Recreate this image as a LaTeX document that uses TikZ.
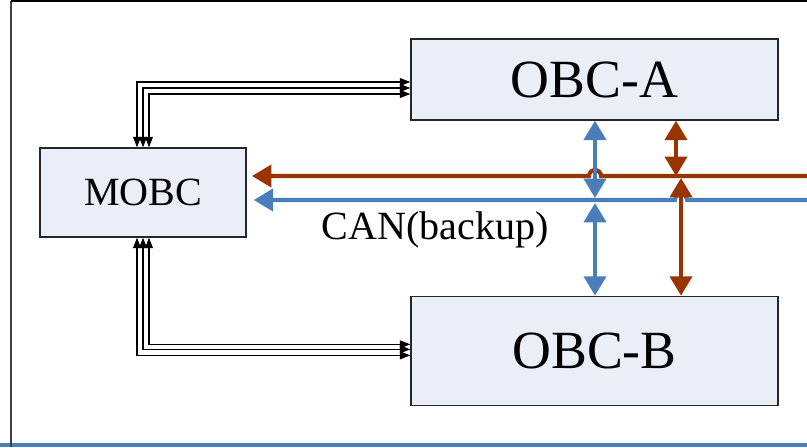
\documentclass[tikz,border=0pt]{standalone}
\usepackage{fontspec}
\setmainfont{Liberation Serif}
\usetikzlibrary{arrows.meta,positioning}
\definecolor{boxfill}{HTML}{E9EEF7}
\definecolor{canred}{HTML}{993300}
\definecolor{canblue}{HTML}{4A7EBB}
\tikzset{
    %Define style for the computer boxes
    unit/.style={
           rectangle,
           draw=black!85,
           line width=0.8pt,
           fill=boxfill,
           inner sep=0pt},
    % Define thin link style
    wire/.style={
           <->,
           >={Triangle[length=6pt,width=4.5pt]},
           line width=0.6pt},
    % Define CAN bus style
    bus/.style={
           line width=2.3pt,
           >={Triangle[length=11pt,width=12.5pt]}}
}

\begin{document}
\begin{tikzpicture}[x=0.02cm,y=-0.02cm]
  \useasboundingbox (0,0) rectangle (807,447);
  % frame
  \fill[canblue] (0,443) rectangle (807,447);
  \draw[black!75,line width=1.1pt] (11,447) -- (11,1);
  \draw[black,line width=1.1pt] (11,1) -- (807,1);
  % boxes
  \node[unit,minimum width=4.12cm,minimum height=1.78cm,
        font=\fontsize{22.8}{27}\selectfont] (mobc) at (143,192.5) {MOBC};
  \node[unit,minimum width=7.34cm,minimum height=1.62cm,
        font=\fontsize{30.6}{36}\selectfont] (obca) at (594.5,79.5) {OBC-A};
  \node[unit,minimum width=7.34cm,minimum height=2.18cm,below=3.5cm of obca,
        font=\fontsize{30.6}{36}\selectfont] (obcb) {OBC-B};
  % triple links
  \foreach \dx/\dy in {-0.12/-0.05, 0/-0.17, 0.12/-0.29}
    \draw[wire] ([yshift=\dy cm]obca.west) -| ([xshift=\dx cm]mobc.north);
  \foreach \dx/\dy in {0.12/0.13, 0/0.03, -0.12/-0.09}
    \draw[wire] ([yshift=\dy cm]obcb.west) -| ([xshift=\dx cm]mobc.south);
  % bus lines
  \coordinate (redend) at (807,176);
  \coordinate (blueend) at (807,200);
  \coordinate (redtap) at (676,176);
  \coordinate (redtapb) at (681,176);
  \coordinate (bluetap) at (595,200);
  \draw[bus,canblue,->,shorten >=4pt] (blueend) -- (687,200)
    arc[start angle=0,end angle=180,radius=0.12cm] -- (mobc.east |- blueend);
  \draw[bus,canred,->,shorten >=3pt] (redend) -- (601,176)
    arc[start angle=0,end angle=180,radius=0.12cm] -- (mobc.east |- redend);
  \draw[bus,canblue,<->] (obca.south -| bluetap) -- ([yshift=0.04cm]bluetap);
  \draw[bus,canblue,<->] ([yshift=-0.06cm]bluetap) -- (obcb.north -| bluetap);
  \draw[bus,canred,<->] (obca.south -| redtap) -- (redtap);
  \draw[bus,canred,<->] ([yshift=-0.04cm]redtapb) -- (obcb.north -| redtapb);
  \node[font=\fontsize{22.8}{27}\selectfont] (canlabel) at (435,230) {CAN(backup)};
\end{tikzpicture}
\end{document}
